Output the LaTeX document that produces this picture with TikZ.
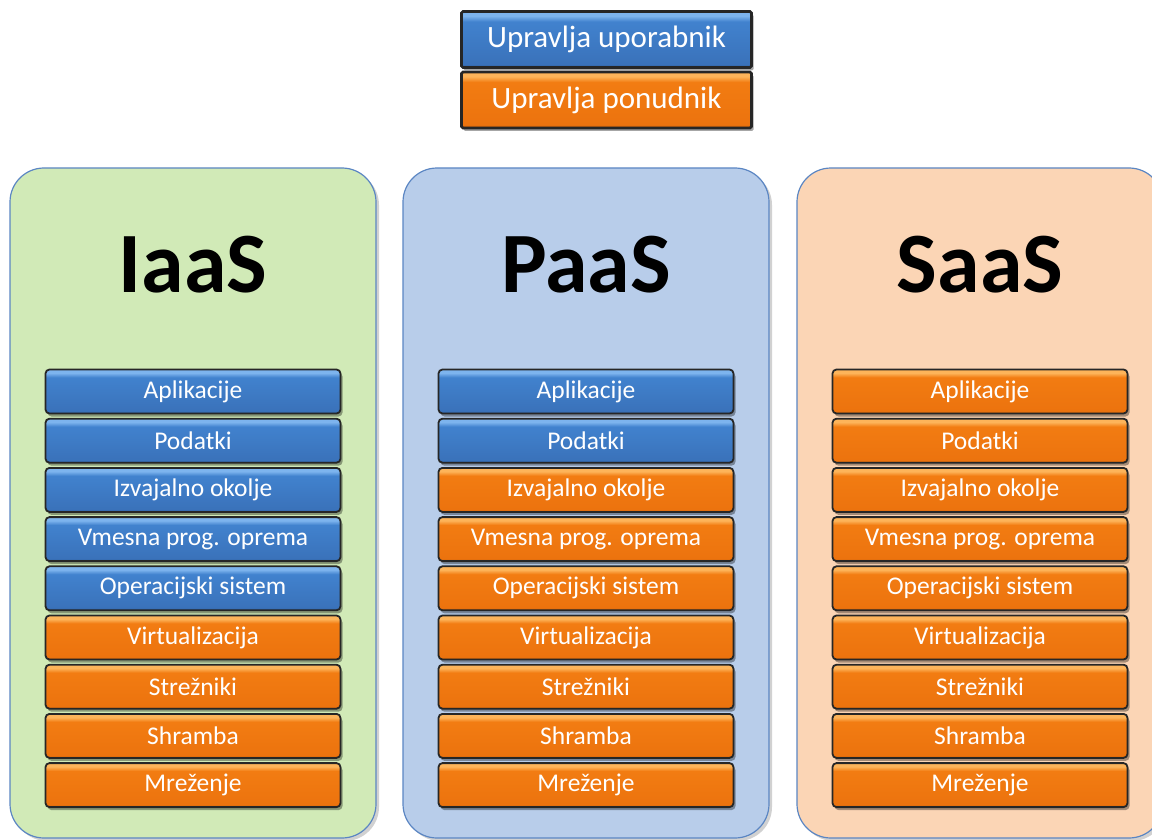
\documentclass[tikz,border=0pt]{standalone}
\usepackage{fontspec}
\setmainfont{Carlito}
\usetikzlibrary{shadows}

\definecolor{panelline}{HTML}{5B86C3}
\definecolor{iaasbg}{HTML}{D1EAB7}
\definecolor{paasbg}{HTML}{B8CDEA}
\definecolor{saasbg}{HTML}{FBD5B5}

\definecolor{bluelt}{HTML}{7DB4EE}
\definecolor{bluemid}{HTML}{4182CE}
\definecolor{bluelow}{HTML}{3A72BA}
\definecolor{bluedk}{HTML}{2C5C9C}
\definecolor{orglt}{HTML}{FDB45A}
\definecolor{orgmid}{HTML}{F27C12}
\definecolor{orglow}{HTML}{EC730E}
\definecolor{orgdk}{HTML}{C95E08}

% bevelled bar fills: dark lower edge, flat body, bright upper edge
\pgfdeclareverticalshading{bluebar}{100bp}{%
  color(0bp)=(bluedk); color(25bp)=(bluedk); color(28bp)=(bluelow);
  color(66bp)=(bluemid); color(71bp)=(bluelt); color(75bp)=(bluelt);
  color(100bp)=(bluelt)}
\pgfdeclareverticalshading{orgbar}{100bp}{%
  color(0bp)=(orgdk); color(25bp)=(orgdk); color(28bp)=(orglow);
  color(66bp)=(orgmid); color(71bp)=(orglt); color(75bp)=(orglt);
  color(100bp)=(orglt)}

\tikzset{
  panel/.style={draw=panelline, line width=1.2pt, rounded corners=34pt,
    minimum width=366pt, minimum height=670pt, inner sep=0pt,
    drop shadow={shadow xshift=3pt, shadow yshift=-3pt, opacity=0.18, fill=black}},
  heading/.style={font=\fontsize{86}{86}\selectfont\bfseries, anchor=base, inner sep=0pt},
  barbase/.style={draw=black!85, line width=1.8pt, rounded corners=4pt,
    minimum width=295pt, minimum height=44pt, inner sep=0pt, text=white,
    font=\fontsize{25.5}{25.5}\selectfont,
    drop shadow={shadow xshift=2pt, shadow yshift=-3pt, opacity=0.35, fill=black}},
  userbar/.style={barbase, shade, shading=bluebar},
  provbar/.style={barbase, shade, shading=orgbar},
  legendbase/.style={draw=black!85, line width=2.6pt, rounded corners=1.5pt,
    minimum width=290pt, minimum height=56pt, inner sep=0pt, text=white,
    font=\fontsize{31}{31}\selectfont,
    drop shadow={shadow xshift=2pt, shadow yshift=-3pt, opacity=0.35, fill=black}},
}

\begin{document}
\begin{tikzpicture}[x=1pt, y=-1pt]
  \useasboundingbox (0,0) rectangle (1152,840);
  \clip (0,0) rectangle (1152,840);

  % legend
  \node[legendbase, shade, shading=bluebar] (user) at (606.5,39.5) {Upravlja uporabnik};
  \node[legendbase, shade, shading=orgbar] (provider) at (606.5,100) {Upravlja ponudnik};

  % three service models with their stacks
  \foreach \col/\x/\bg/\name/\nblue in {iaas/10/iaasbg/IaaS/5, paas/403/paasbg/PaaS/2, saas/797/saasbg/SaaS/0}{
    \node[panel, fill=\bg] (\col) at (\x+183,503) {};
    \node[heading] (\col-t) at (\x+183,292) {\name};
    \foreach \i/\lab in {1/Aplikacije, 2/Podatki, 3/Izvajalno okolje,
        4/Vmesna prog. oprema, 5/Operacijski sistem, 6/Virtualizacija,
        7/Strežniki, 8/Shramba, 9/Mreženje}{
      \ifnum\i>\nblue \def\barsty{provbar}\else\def\barsty{userbar}\fi
      \node[\barsty] (\col-\i) at (\x+183,{391.5+49.2*(\i-1)}) {\lab};
    }
  }
\end{tikzpicture}
\end{document}
